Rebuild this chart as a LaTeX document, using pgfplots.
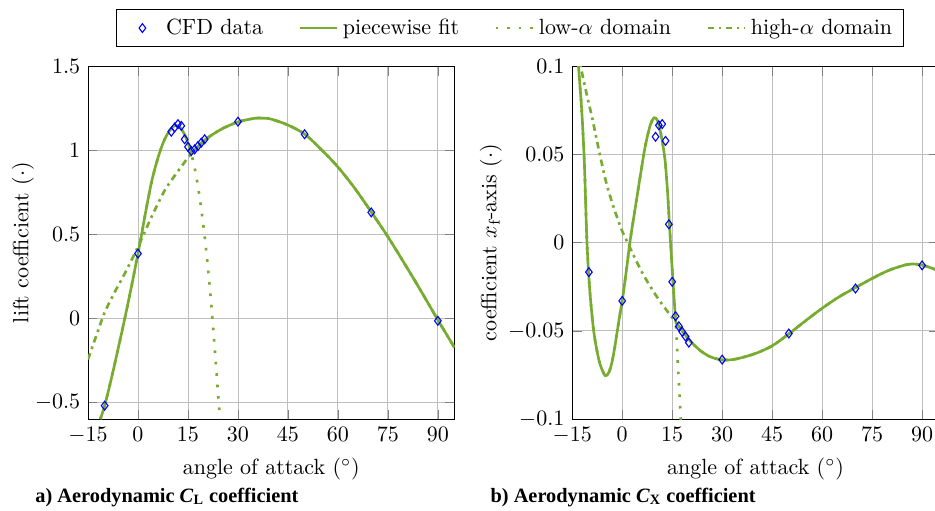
\documentclass[border=0pt]{standalone}
\usepackage{fontspec}
\usepackage{pgfplots}
\pgfplotsset{compat=1.18}
\newfontfamily\capfont{Liberation Serif}
\definecolor{fitgreen}{RGB}{119,172,48}
\pgfplotsset{
  cfd/.style={only marks, mark=diamond, mark size=2pt, blue, mark options={solid, line width=0.5pt}},
  fit/.style={fitgreen, line width=1.2pt, smooth, no marks},
  lowdom/.style={fitgreen, line width=1.2pt, loosely dotted, smooth, no marks},
  highdom/.style={fitgreen, line width=1.2pt, dashdotted, smooth, no marks},
  common/.style={scale only axis, width=166.6pt, height=160.4pt, xmin=-15, xmax=95,
    xtick={-15,0,15,30,45,60,75,90}, grid=major, xlabel={angle of attack ($^\circ$)}},
}
\begin{document}
\begin{tikzpicture}
\begin{axis}[common, name=ax1, ymin=-0.6, ymax=1.5, ytick={-0.5,0,0.5,1,1.5},
  ylabel={lift coefficient ($\cdot$)}, ylabel shift=-6.4pt,
  legend columns=4,
  legend style={at={(1.151,1.108)}, anchor=center, /tikz/every even column/.append style={column sep=14pt}}]
\addlegendimage{white, mark=diamond, mark size=2pt, mark options={draw=blue, fill=none, solid, line width=0.5pt}}\addlegendentry{CFD data}
\addlegendimage{fitgreen, line width=1.2pt}\addlegendentry{piecewise fit}
\addlegendimage{fitgreen, line width=1.2pt, loosely dotted}\addlegendentry{low-$\alpha$ domain}
\addlegendimage{fitgreen, line width=1.2pt, dashdotted}\addlegendentry{high-$\alpha$ domain}
% low-alpha domain
\addplot[lowdom, forget plot] coordinates {(-11.3,-0.6) (-10,-0.52) (-8,-0.36) (-6,-0.185) (-4,-0.005) (-2,0.185) (0,0.385) (1,0.49) (2,0.6) (3,0.705) (4,0.805) (5,0.885) (6,0.955) (7,1.015) (8,1.065) (9,1.102) (10,1.13) (11,1.147) (12,1.145) (13,1.127) (14,1.093) (15,1.045) (16,0.98) (17,0.895) (18,0.785) (19,0.65) (20,0.49) (21,0.3) (22,0.08) (23,-0.17) (24,-0.44) (24.6,-0.6)};
% high-alpha domain
\addplot[highdom, forget plot] coordinates {(-15,-0.245) (-12,-0.075) (-10,0.035) (-7,0.155) (-4,0.265) (0,0.425) (4,0.6) (8,0.76) (12,0.875) (16,0.98) (20,1.06) (25,1.125) (30,1.168) (35,1.19) (38,1.19) (40,1.185) (45,1.15) (50,1.096) (55,1.005) (60,0.9) (65,0.775) (70,0.633) (75,0.485) (80,0.325) (85,0.16) (90,-0.01) (95,-0.175)};
% piecewise fit
\addplot[fit, forget plot] coordinates {(-11.3,-0.6) (-10,-0.52) (-8,-0.36) (-6,-0.185) (-4,-0.005) (-2,0.185) (0,0.385) (1,0.49) (2,0.6) (3,0.705) (4,0.805) (5,0.885) (6,0.955) (7,1.015) (8,1.065) (9,1.102) (10,1.13) (11,1.147) (12,1.145) (13,1.127) (14,1.093) (15,1.045) (16,0.98)};
\addplot[fit, forget plot] coordinates {(16,0.98) (20,1.06) (25,1.125) (30,1.168) (35,1.19) (38,1.19) (40,1.185) (45,1.15) (50,1.096) (55,1.005) (60,0.9) (65,0.775) (70,0.633) (75,0.485) (80,0.325) (85,0.16) (90,-0.01) (95,-0.175)};
\addplot[cfd, forget plot] coordinates {(-10,-0.52) (0,0.385) (10,1.11) (11,1.135) (12,1.155) (13,1.145) (14,1.065) (15,1.02) (16,0.995) (17,1.005) (18,1.025) (19,1.045) (20,1.065) (30,1.17) (50,1.095) (70,0.63) (90,-0.015)};
\end{axis}
\begin{axis}[common, name=ax2, at={(ax1.south east)}, anchor=south west, xshift=53.5pt,
  ymin=-0.1, ymax=0.1, ytick={-0.1,-0.05,0,0.05,0.1},
  yticklabel style={/pgf/number format/fixed, /pgf/number format/precision=2},
  ylabel={coefficient $x_\mathrm{f}$-axis ($\cdot$)}, ylabel shift=-4pt]
% low-alpha domain
\addplot[lowdom] coordinates {(-13.8,0.114) (-13.14,0.1) (-12.15,0.075) (-11.4,0.0473) (-11.01,0.0246) (-10.62,0.0019) (-10.11,-0.0167) (-9.51,-0.0322) (-8.61,-0.0493) (-7.65,-0.0606) (-6.6,-0.0692) (-5.1,-0.0754) (-4,-0.0735) (-3.1,-0.068) (-2.3,-0.060) (-1.6,-0.0515) (-0.8,-0.042) (0,-0.033) (0.7,-0.0235) (1.4,-0.0135) (2.4,0.0015) (3.9,0.0195) (5.4,0.0375) (6.9,0.0545) (8.4,0.0665) (9.6,0.0708) (10.6,0.0692) (11.4,0.0635) (12.2,0.0555) (12.9,0.046) (13.6,0.029) (14.2,0.0095) (14.9,-0.012) (15.4,-0.0265) (15.9,-0.041) (16.2,-0.0495) (16.6,-0.065) (17.2,-0.086) (17.6,-0.101)};
% high-alpha domain
\addplot[highdom] coordinates {(-13.3,0.107) (-12.5,0.1) (-11,0.087) (-9,0.0705) (-7,0.0525) (-5,0.0355) (-3,0.0225) (-1,0.0115) (0,0.0065) (2,-0.0015) (4,-0.0095) (6,-0.017) (8,-0.0235) (10,-0.0295) (12,-0.035) (14,-0.040) (16,-0.045) (18,-0.050) (20,-0.0548) (22,-0.0588) (24,-0.062) (26,-0.0643) (28,-0.0657) (30,-0.0664) (32,-0.0665) (35,-0.0656) (40,-0.0628) (45,-0.0585) (50,-0.0517) (55,-0.0443) (60,-0.0372) (65,-0.0308) (70,-0.0255) (75,-0.0203) (80,-0.0157) (85,-0.0126) (87.5,-0.0121) (90,-0.0127) (93,-0.0145) (95,-0.016)};
% piecewise fit
\addplot[fit] coordinates {(-13.8,0.114) (-13.14,0.1) (-12.15,0.075) (-11.4,0.0473) (-11.01,0.0246) (-10.62,0.0019) (-10.11,-0.0167) (-9.51,-0.0322) (-8.61,-0.0493) (-7.65,-0.0606) (-6.6,-0.0692) (-5.1,-0.0754) (-4,-0.0735) (-3.1,-0.068) (-2.3,-0.060) (-1.6,-0.0515) (-0.8,-0.042) (0,-0.033) (0.7,-0.0235) (1.4,-0.0135) (2.4,0.0015) (3.9,0.0195) (5.4,0.0375) (6.9,0.0545) (8.4,0.0665) (9.6,0.0708) (10.6,0.0692) (11.4,0.0635) (12.2,0.0555) (12.9,0.046) (13.6,0.029) (14.2,0.0095) (14.9,-0.012) (15.4,-0.0265) (15.9,-0.041) (16.05,-0.045)};
\addplot[fit] coordinates {(16.05,-0.045) (18,-0.050) (20,-0.0548) (22,-0.0588) (24,-0.062) (26,-0.0643) (28,-0.0657) (30,-0.0664) (32,-0.0665) (35,-0.0656) (40,-0.0628) (45,-0.0585) (50,-0.0517) (55,-0.0443) (60,-0.0372) (65,-0.0308) (70,-0.0255) (75,-0.0203) (80,-0.0157) (85,-0.0126) (87.5,-0.0121) (90,-0.0127) (93,-0.0145) (95,-0.016)};
\addplot[cfd] coordinates {(-10,-0.0167) (0,-0.033) (10,0.060) (11,0.0665) (12,0.0672) (13,0.0577) (14,0.0104) (15,-0.0222) (16,-0.0417) (17,-0.0474) (18,-0.0505) (19,-0.0532) (20,-0.0567) (30,-0.0663) (50,-0.0515) (70,-0.026) (90,-0.0129)};
\end{axis}
\node[anchor=west, font=\capfont\bfseries\fontsize{9.25}{11}\selectfont, inner sep=0pt] at ([shift={(-24.1pt,-35.5pt)}]ax1.south west) {a) Aerodynamic \textit{C}\textsubscript{L} coefficient};
\node[anchor=west, font=\capfont\bfseries\fontsize{9.25}{11}\selectfont, inner sep=0pt] at ([shift={(-37.3pt,-35.5pt)}]ax2.south west) {b) Aerodynamic \textit{C}\textsubscript{X} coefficient};
\pgfresetboundingbox
\useasboundingbox ([shift={(-40pt,-41.4pt)}]ax1.south west) rectangle ([shift={(385pt,190.5pt)}]ax1.south west);
\end{tikzpicture}
\end{document}
